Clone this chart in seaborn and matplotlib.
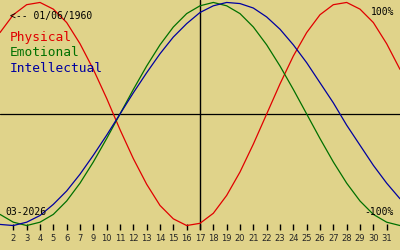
import matplotlib
matplotlib.use("Agg")
import matplotlib.pyplot as plt
import pandas as pd
import seaborn as sns

BG = "#E0D38A"

# ---- data ----
day_index = list(range(31))
physical = [0.73, 0.89, 0.98, 1.00, 0.94, 0.82, 0.63, 0.40, 0.14, -0.14,
            -0.40, -0.63, -0.82, -0.94, -1.00, -0.98, -0.89, -0.73, -0.52, -0.27,
            0.00, 0.27, 0.52, 0.73, 0.89, 0.98, 1.00, 0.94, 0.82, 0.63, 0.40]
emotional = [-0.90, -0.97, -1.00, -0.97, -0.90, -0.78, -0.62, -0.43, -0.22, 0.00,
             0.22, 0.43, 0.62, 0.78, 0.90, 0.97, 1.00, 0.97, 0.90, 0.78,
             0.62, 0.43, 0.22, 0.00, -0.22, -0.43, -0.62, -0.78, -0.90, -0.97, -1.00]
intellectual = [-0.99, -1.00, -0.97, -0.91, -0.81, -0.69, -0.54, -0.37, -0.19, 0.00,
                0.19, 0.37, 0.54, 0.69, 0.81, 0.91, 0.97, 1.00, 0.99, 0.95,
                0.87, 0.76, 0.62, 0.46, 0.28, 0.10, -0.10, -0.28, -0.46, -0.62, -0.76]
tick_pos = list(range(1, 30))
tick_labels = ["2", "3", "4", "5", "6", "7", "9", "10", "11", "12", "13", "14",
               "15", "16", "17", "18", "19", "20", "21", "22", "23", "24", "25",
               "26", "27", "28", "29", "30", "31"]
today_index = 15
series_names = ["Physical", "Emotional", "Intellectual"]
series_colors = ["#E00000", "#007000", "#0000A0"]

df = pd.DataFrame({
    "day": day_index * 3,
    "value": physical + emotional + intellectual,
    "series": [series_names[0]] * 31 + [series_names[1]] * 31 + [series_names[2]] * 31,
})

sns.set_theme(style="white", rc={"axes.facecolor": BG, "figure.facecolor": BG})
plt.rcParams["font.family"] = ["DejaVu Sans Mono", "DejaVu Sans"]

W, H = 400, 250
fig = plt.figure(figsize=(W / 100, H / 100), dpi=100)
fig.patch.set_facecolor(BG)
ax = fig.add_axes([0, 20 / H, 1, 230 / H])
ax.set_facecolor(BG)

sns.lineplot(data=df, x="day", y="value", hue="series",
             palette=dict(zip(series_names, series_colors)),
             linewidth=0.9, legend=False, ax=ax, zorder=3)

ax.axhline(0, color="black", lw=0.9, zorder=2)
ax.axvline(today_index, color="black", lw=1.0, zorder=2)

ax.set_xlim(0, 30)
ax.set_ylim(-1.04, 1.022)
for s in ax.spines.values():
    s.set_visible(False)
ax.set_xlabel("")
ax.set_ylabel("")
ax.set_yticks([])
ax.set_xticks(tick_pos)
ax.set_xticklabels(tick_labels)
ax.tick_params(axis="x", direction="in", length=4, width=1.0, color="black",
               pad=3, labelsize=6, bottom=True)
for lab in ax.get_xticklabels():
    lab.set_fontfamily(["DejaVu Sans"])

def ftxt(x, y, s, **kw):
    fig.text(x / W, 1 - y / H, s, **kw)

ftxt(10, 16, "<-- 01/06/1960", fontsize=7, color="black", ha="left", va="center")
ftxt(10, 38, "Physical", fontsize=9.3, color=series_colors[0], ha="left", va="center")
ftxt(10, 53, "Emotional", fontsize=9.3, color=series_colors[1], ha="left", va="center")
ftxt(10, 68, "Intellectual", fontsize=9.3, color=series_colors[2], ha="left", va="center")
ftxt(394, 12, "100%", fontsize=7, color="black", ha="right", va="center")
ftxt(394, 212, "-100%", fontsize=7, color="black", ha="right", va="center")
ftxt(5, 212, "03-2026", fontsize=7, color="black", ha="left", va="center")

fig.savefig("out.png", dpi=100, facecolor=BG)
